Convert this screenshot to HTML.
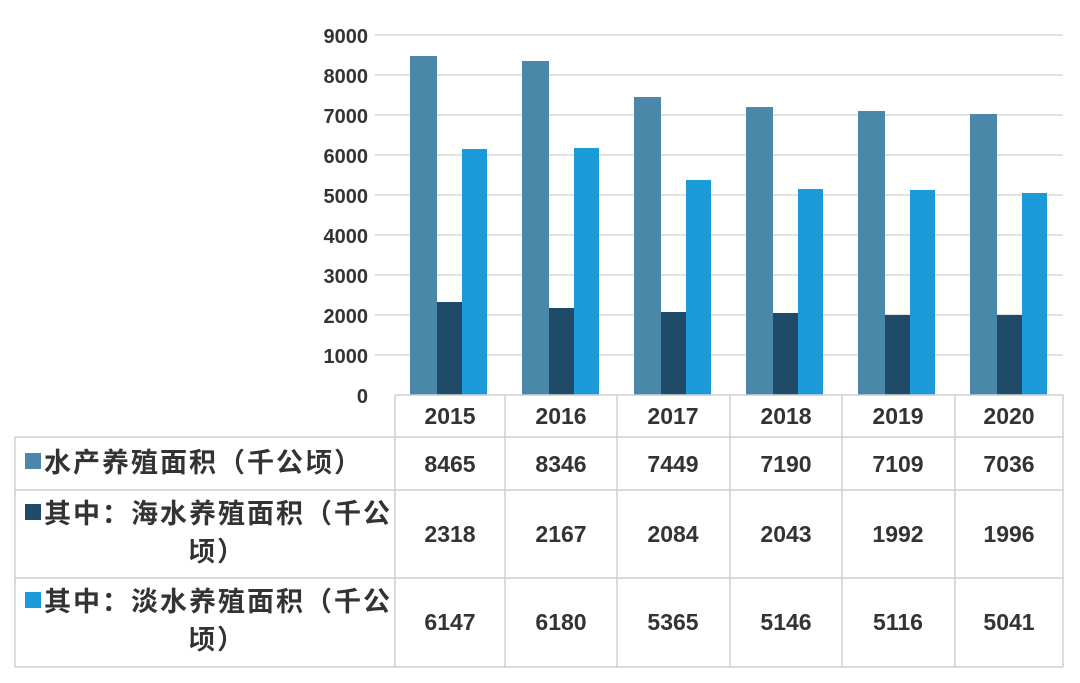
<!DOCTYPE html>
<html><head><meta charset="utf-8"><style>
body{margin:0;background:#fff;width:1080px;height:678px;overflow:hidden}
text{font-family:"Liberation Sans","Noto Sans CJK SC",sans-serif;fill:#333}
</style></head><body>
<svg width="1080" height="678" xmlns="http://www.w3.org/2000/svg">
<g stroke="#d8d8d8" stroke-width="1.5">
<line x1="375" y1="35" x2="1063" y2="35"/><line x1="375" y1="75" x2="1063" y2="75"/>
<line x1="375" y1="115" x2="1063" y2="115"/><line x1="375" y1="155" x2="1063" y2="155"/>
<line x1="375" y1="195" x2="1063" y2="195"/><line x1="375" y1="235" x2="1063" y2="235"/>
<line x1="375" y1="275" x2="1063" y2="275"/><line x1="375" y1="315" x2="1063" y2="315"/>
<line x1="375" y1="355" x2="1063" y2="355"/>
</g>
<g font-weight="bold" font-size="20" text-anchor="end">
<text x="368" y="43">9000</text><text x="368" y="83">8000</text><text x="368" y="123">7000</text>
<text x="368" y="163">6000</text><text x="368" y="203">5000</text><text x="368" y="243">4000</text>
<text x="368" y="283">3000</text><text x="368" y="323">2000</text><text x="368" y="363">1000</text>
<text x="368" y="403">0</text>
</g>
<g>
<rect x="410" y="56" width="27" height="339" fill="#4a87a9"/><rect x="437" y="302" width="25" height="93" fill="#1f4b68"/><rect x="462" y="149" width="25" height="246" fill="#1a9ad8"/>
<rect x="522" y="61" width="27" height="334" fill="#4a87a9"/><rect x="549" y="308" width="25" height="87" fill="#1f4b68"/><rect x="574" y="148" width="25" height="247" fill="#1a9ad8"/>
<rect x="634" y="97" width="27" height="298" fill="#4a87a9"/><rect x="661" y="312" width="25" height="83" fill="#1f4b68"/><rect x="686" y="180" width="25" height="215" fill="#1a9ad8"/>
<rect x="746" y="107" width="27" height="288" fill="#4a87a9"/><rect x="773" y="313" width="25" height="82" fill="#1f4b68"/><rect x="798" y="189" width="25" height="206" fill="#1a9ad8"/>
<rect x="858" y="111" width="27" height="284" fill="#4a87a9"/><rect x="885" y="315" width="25" height="80" fill="#1f4b68"/><rect x="910" y="190" width="25" height="205" fill="#1a9ad8"/>
<rect x="970" y="114" width="27" height="281" fill="#4a87a9"/><rect x="997" y="315" width="25" height="80" fill="#1f4b68"/><rect x="1022" y="193" width="25" height="202" fill="#1a9ad8"/>
</g>
<g stroke="#cfcfcf" stroke-width="1.5" fill="none">
<line x1="395" y1="395" x2="1063" y2="395"/>
<line x1="15" y1="437" x2="1063" y2="437"/>
<line x1="15" y1="490" x2="1063" y2="490"/>
<line x1="15" y1="578" x2="1063" y2="578"/>
<line x1="15" y1="667" x2="1063" y2="667"/>
<line x1="15" y1="437" x2="15" y2="667"/>
<line x1="395" y1="395" x2="395" y2="667"/><line x1="505" y1="395" x2="505" y2="667"/>
<line x1="617" y1="395" x2="617" y2="667"/><line x1="730" y1="395" x2="730" y2="667"/>
<line x1="842" y1="395" x2="842" y2="667"/><line x1="955" y1="395" x2="955" y2="667"/>
<line x1="1063" y1="395" x2="1063" y2="667"/>
</g>
<g font-size="23" text-anchor="middle" font-weight="bold">
<text x="450" y="424">2015</text><text x="561" y="424">2016</text><text x="673" y="424">2017</text>
<text x="786" y="424">2018</text><text x="898" y="424">2019</text><text x="1009" y="424">2020</text>
</g>
<g font-size="23" font-weight="bold" text-anchor="middle">
<text x="450" y="472">8465</text><text x="561" y="472">8346</text><text x="673" y="472">7449</text><text x="786" y="472">7190</text><text x="898" y="472">7109</text><text x="1009" y="472">7036</text>
<text x="450" y="542">2318</text><text x="561" y="542">2167</text><text x="673" y="542">2084</text><text x="786" y="542">2043</text><text x="898" y="542">1992</text><text x="1009" y="542">1996</text>
<text x="450" y="630">6147</text><text x="561" y="630">6180</text><text x="673" y="630">5365</text><text x="786" y="630">5146</text><text x="898" y="630">5116</text><text x="1009" y="630">5041</text>
</g>
<rect x="25" y="453" width="16" height="16" fill="#4a87a9"/>
<rect x="25" y="504" width="16" height="16" fill="#1f4b68"/>
<rect x="25" y="592" width="16" height="16" fill="#1a9ad8"/>
<g font-size="27" font-weight="bold" letter-spacing="2">
<text x="44" y="472">水产养殖面积（千公顷）</text>
<text x="44" y="523">其中：海水养殖面积（千公</text>
<text x="188" y="561">顷）</text>
<text x="44" y="611">其中：淡水养殖面积（千公</text>
<text x="188" y="649">顷）</text>
</g>
</svg>
</body></html>
